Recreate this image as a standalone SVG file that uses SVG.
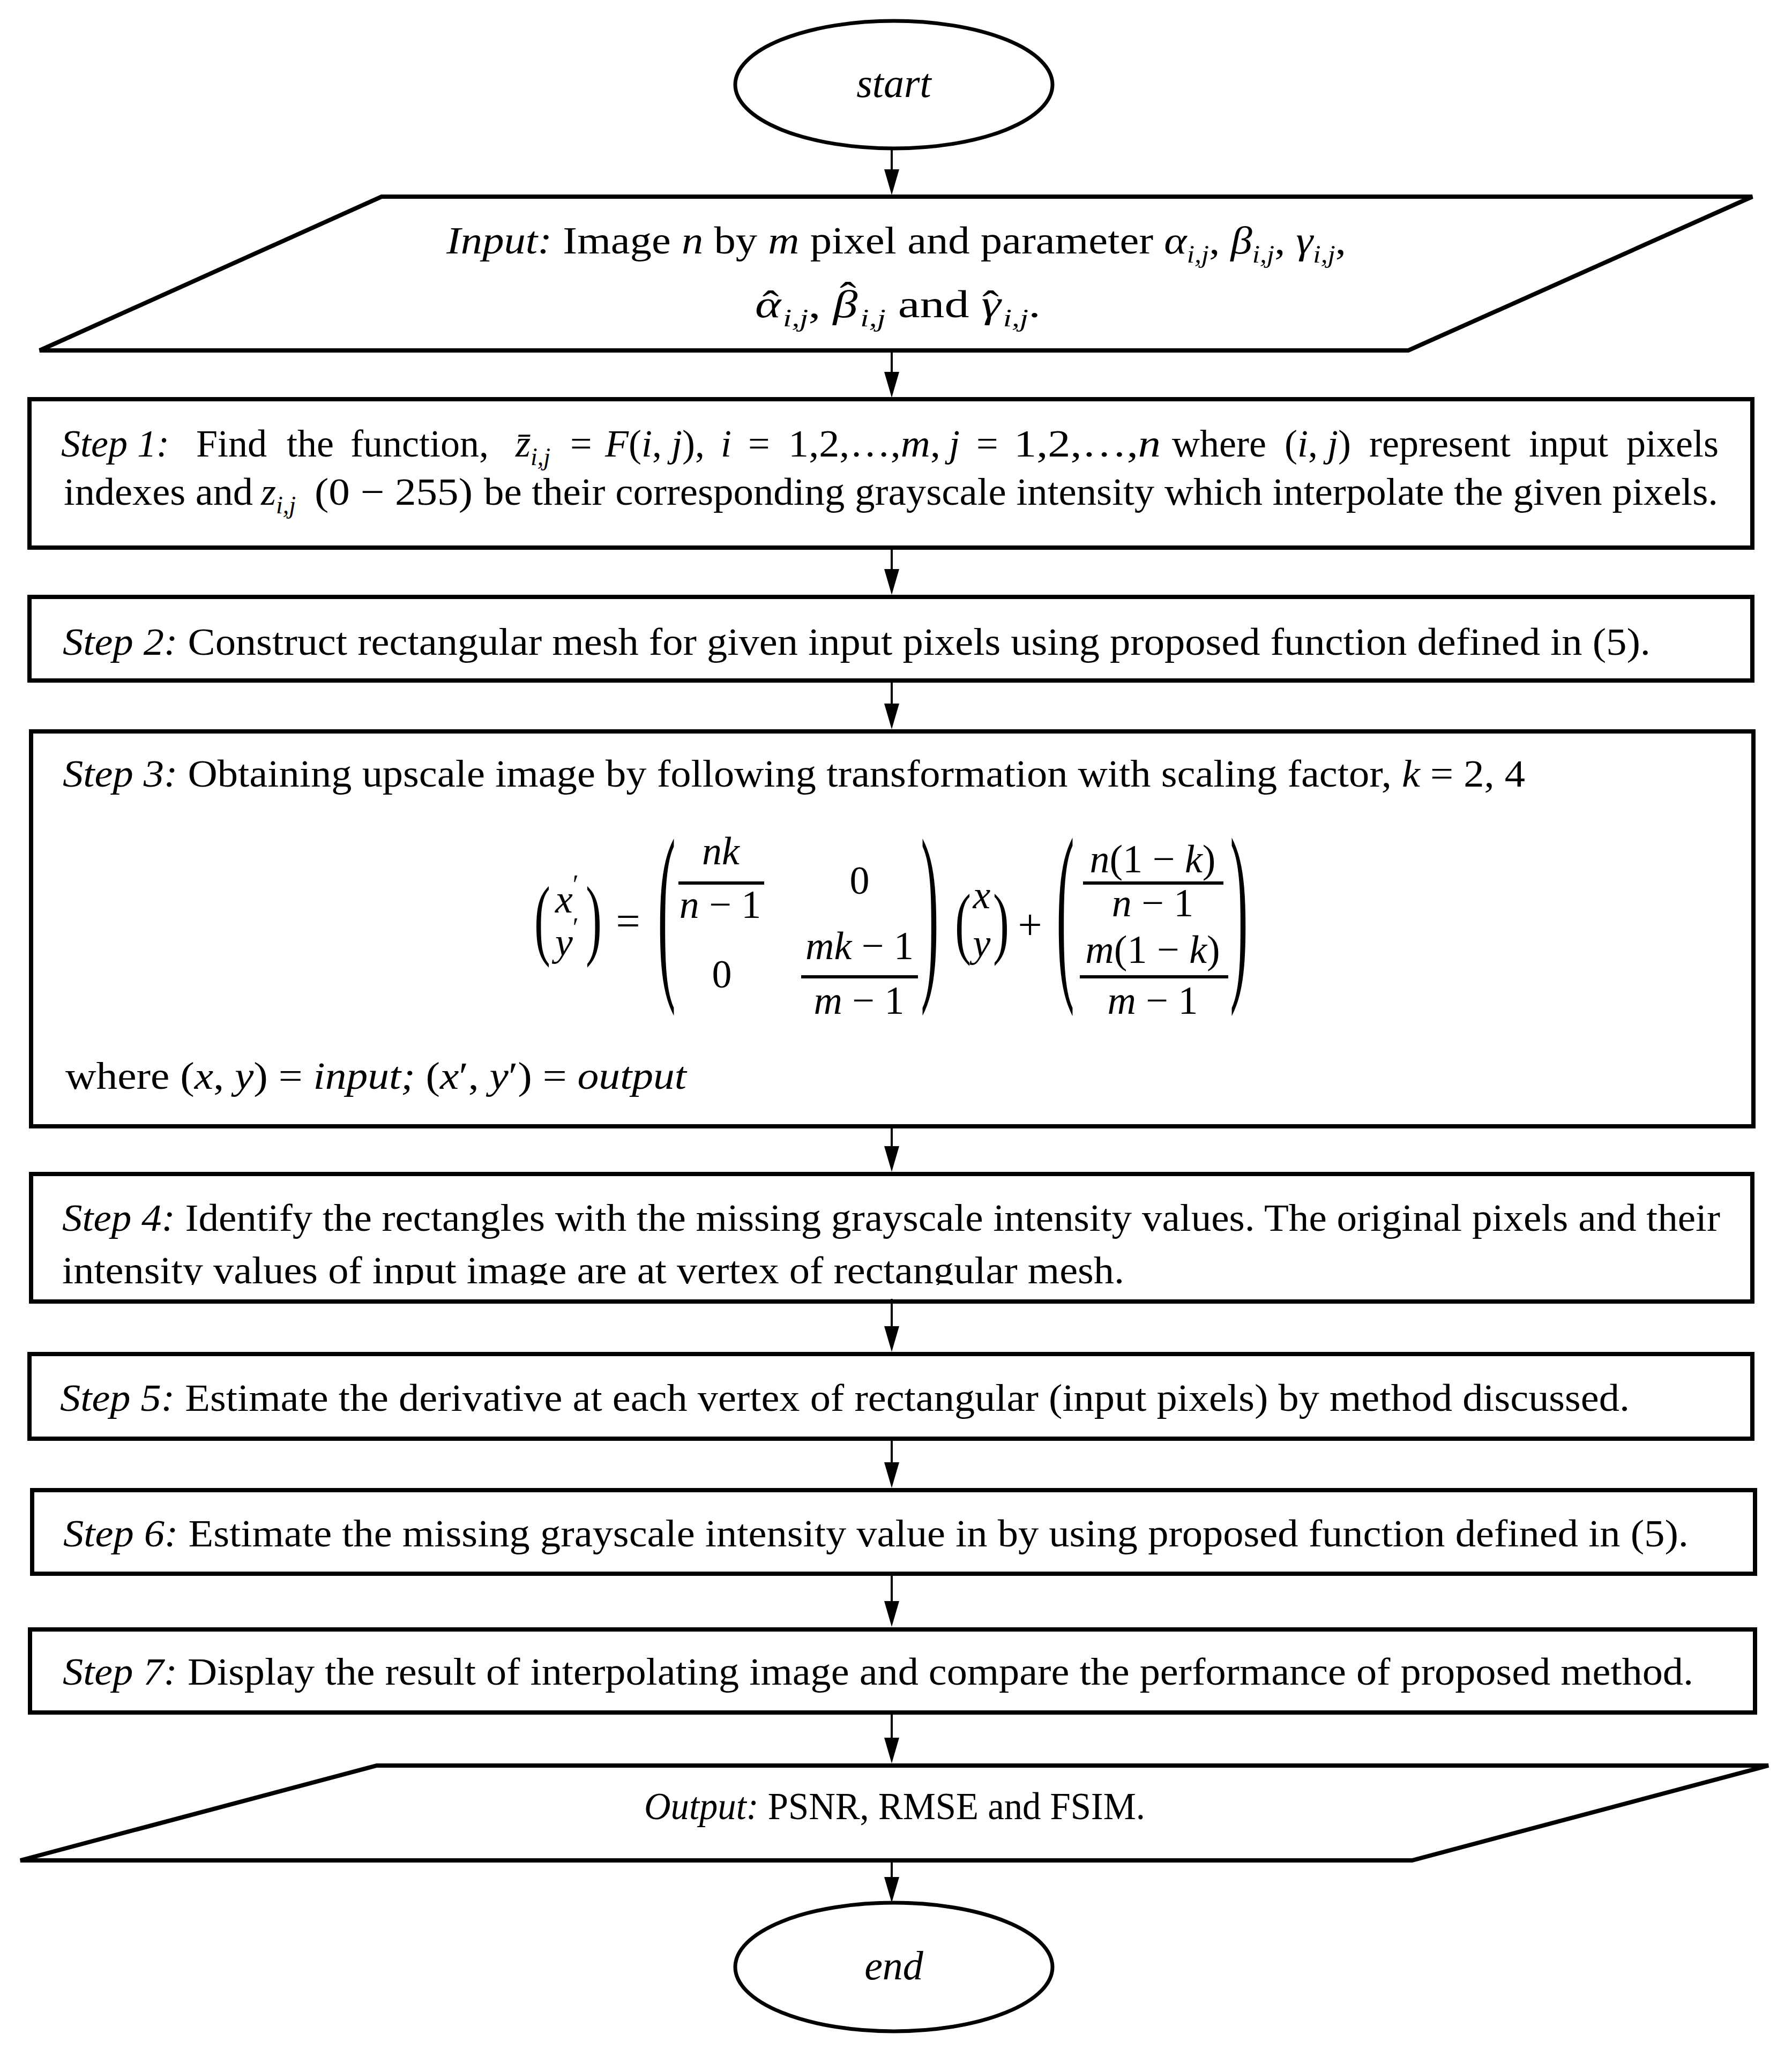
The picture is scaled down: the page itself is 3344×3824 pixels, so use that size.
<svg xmlns="http://www.w3.org/2000/svg" width="3344" height="3824" viewBox="0 0 3344 3824">
<style>
.t{font-family:"Liberation Serif","Times New Roman",serif;font-size:72px;fill:#000}
.i{font-style:italic}
.s{font-size:46px;font-style:italic}
.m{font-family:"Liberation Serif","Times New Roman",serif;font-size:74px;fill:#000}
.box{fill:#fff;stroke:#000;stroke-width:8}
.term{fill:#fff;stroke:#000;stroke-width:7}
.bar{stroke:#000;stroke-width:6}
.conn line{stroke:#000;stroke-width:4}
</style>
<defs>
<marker id="ah" markerUnits="userSpaceOnUse" viewBox="0 0 48 28" refX="38" refY="14" markerWidth="48" markerHeight="28" orient="auto">
<path d="M0,0 L48,14 L0,28 z" fill="#000"/>
</marker>
<clipPath id="clip4"><rect x="60" y="2195" width="3208" height="203"/></clipPath>
</defs>
<rect width="3344" height="3824" fill="#fff"/>

<g id="start">
<ellipse class="term" cx="1668" cy="158" rx="296" ry="119"/>
<text class="t i" x="1668" y="181" text-anchor="middle" style="font-size:76px">start</text>
</g>

<g id="input">
<polygon class="box" points="712,367 3270,367 2628,654 74,654"/>
<text class="t" x="833" y="473" textLength="1679" lengthAdjust="spacingAndGlyphs"><tspan class="i">Input:</tspan> Image <tspan class="i">n</tspan> by <tspan class="i">m</tspan> pixel and parameter <tspan class="i">α</tspan><tspan class="s" dy="17">i,j</tspan><tspan dy="-17">, </tspan><tspan class="i">β</tspan><tspan class="s" dy="17">i,j</tspan><tspan dy="-17">, </tspan><tspan class="i">γ</tspan><tspan class="s" dy="17">i,j</tspan><tspan dy="-17">,</tspan></text>
<text class="t" x="1409" y="592" textLength="533" lengthAdjust="spacingAndGlyphs"><tspan class="i">α</tspan><tspan dx="-27">ˆ</tspan><tspan class="s" dx="6" dy="17">i,j</tspan><tspan dy="-17">, </tspan><tspan class="i">β</tspan><tspan dx="-26" dy="-16">ˆ</tspan><tspan class="s" dx="6" dy="33">i,j</tspan><tspan dy="-17"> and  </tspan><tspan class="i">γ</tspan><tspan dx="-27">ˆ</tspan><tspan class="s" dx="6" dy="17">i,j</tspan><tspan dy="-17">.</tspan></text>
</g>

<g id="step1">
<rect class="box" x="55" y="745" width="3215" height="277"/>
<text class="t i" x="114" y="852">Step 1:</text>
<text class="t" x="366" y="852">Find</text>
<text class="t" x="535" y="852">the</text>
<text class="t" x="654" y="852">function,</text>
<text class="t" x="962" y="852"><tspan class="i">z&#x304;</tspan><tspan class="s" dy="16">i,j</tspan></text>
<text class="t" x="1064" y="852">=</text>
<text class="t" x="1129" y="852"><tspan class="i">F</tspan>(<tspan class="i">i</tspan>, <tspan class="i">j</tspan>),</text>
<text class="t i" x="1345" y="852">i</text>
<text class="t" x="1396" y="852">=</text>
<text class="t" x="1471" y="852" textLength="284" lengthAdjust="spacingAndGlyphs">1,2,…,<tspan class="i">m</tspan>,</text>
<text class="t i" x="1771" y="852">j</text>
<text class="t" x="1822" y="852">=</text>
<text class="t" x="1892" y="852" textLength="274" lengthAdjust="spacingAndGlyphs">1,2,…,<tspan class="i">n</tspan></text>
<text class="t" x="2187" y="852">where</text>
<text class="t" x="2397" y="852">(<tspan class="i">i</tspan>, <tspan class="i">j</tspan>)</text>
<text class="t" x="2555" y="852">represent</text>
<text class="t" x="2853" y="852">input</text>
<text class="t" x="3035" y="852">pixels</text>
<text class="t" x="119" y="942" textLength="353" lengthAdjust="spacingAndGlyphs">indexes and</text>
<text class="t" x="487" y="942"><tspan class="i">z</tspan><tspan class="s" dy="16">i,j</tspan></text>
<text class="t" x="587" y="942" textLength="295" lengthAdjust="spacingAndGlyphs">(0 − 255)</text>
<text class="t" x="903" y="942" textLength="2303" lengthAdjust="spacingAndGlyphs">be their corresponding grayscale intensity which interpolate the given pixels.</text>
</g>

<g id="step2">
<rect class="box" x="55" y="1114" width="3215" height="156"/>
<text class="t" x="117" y="1222" textLength="2963" lengthAdjust="spacingAndGlyphs"><tspan class="i">Step 2:</tspan> Construct rectangular mesh for given input pixels using proposed function defined in (5).</text>
</g>

<g id="step3">
<rect class="box" x="58" y="1365" width="3214" height="737"/>
<text class="t" x="117" y="1468" textLength="2729" lengthAdjust="spacingAndGlyphs"><tspan class="i">Step 3:</tspan> Obtaining upscale image by following transformation with scaling factor, <tspan class="i">k</tspan> = 2, 4</text>
<text class="m" x="1036" y="1703"><tspan class="i">x</tspan><tspan style="font-size:50px" dy="-36">′</tspan></text>
<text class="m" x="1036" y="1783"><tspan class="i">y</tspan><tspan style="font-size:50px" dy="-36">′</tspan></text>
<text class="m" transform="translate(1012,1770) scale(0.9,1.676)" text-anchor="middle" style="font-size:100px">(</text>
<text class="m" transform="translate(1108,1770) scale(0.9,1.676)" text-anchor="middle" style="font-size:100px">)</text>
<text class="m" x="1172" y="1746" text-anchor="middle" style="font-size:80px">=</text>
<text class="m" transform="translate(1244,1818) scale(1.0,3.646)" text-anchor="middle" style="font-size:100px">(</text>
<text class="m i" x="1345" y="1613" text-anchor="middle">nk</text>
<line class="bar" x1="1266" y1="1648" x2="1426" y2="1648"/>
<text class="m" x="1344" y="1713" text-anchor="middle"><tspan class="i">n</tspan> − 1</text>
<text class="m" x="1604" y="1668" text-anchor="middle">0</text>
<text class="m" x="1604" y="1790" text-anchor="middle"><tspan class="i">mk</tspan> − 1</text>
<line class="bar" x1="1495" y1="1823" x2="1713" y2="1823"/>
<text class="m" x="1347" y="1843" text-anchor="middle">0</text>
<text class="m" x="1603" y="1892" text-anchor="middle"><tspan class="i">m</tspan> − 1</text>
<text class="m" transform="translate(1735,1818) scale(1.0,3.646)" text-anchor="middle" style="font-size:100px">)</text>
<text class="m" transform="translate(1797,1771) scale(0.9,1.489)" text-anchor="middle" style="font-size:100px">(</text>
<text class="m i" x="1832" y="1695" text-anchor="middle">x</text>
<text class="m i" x="1832" y="1785" text-anchor="middle">y</text>
<text class="m" transform="translate(1868,1771) scale(0.9,1.489)" text-anchor="middle" style="font-size:100px">)</text>
<text class="m" x="1922" y="1753" text-anchor="middle" style="font-size:80px">+</text>
<text class="m" transform="translate(1988,1818) scale(1.0,3.67)" text-anchor="middle" style="font-size:100px">(</text>
<text class="m" x="2151" y="1628" text-anchor="middle"><tspan class="i">n</tspan>(1 − <tspan class="i">k</tspan>)</text>
<line class="bar" x1="2021" y1="1648" x2="2283" y2="1648"/>
<text class="m" x="2151" y="1710" text-anchor="middle"><tspan class="i">n</tspan> − 1</text>
<text class="m" x="2151" y="1797" text-anchor="middle"><tspan class="i">m</tspan>(1 − <tspan class="i">k</tspan>)</text>
<line class="bar" x1="2015" y1="1823" x2="2292" y2="1823"/>
<text class="m" x="2151" y="1892" text-anchor="middle"><tspan class="i">m</tspan> − 1</text>
<text class="m" transform="translate(2312,1818) scale(1.0,3.67)" text-anchor="middle" style="font-size:100px">)</text>
<text class="t" x="122" y="2032" textLength="1159" lengthAdjust="spacingAndGlyphs">where (<tspan class="i">x</tspan>, <tspan class="i">y</tspan>) = <tspan class="i">input;</tspan> (<tspan class="i">x</tspan>′, <tspan class="i">y</tspan>′) = <tspan class="i">output</tspan></text>
</g>

<g id="step4">
<rect class="box" x="58" y="2191" width="3212" height="238"/>
<g clip-path="url(#clip4)">
<text class="t" x="116" y="2297" textLength="3094" lengthAdjust="spacingAndGlyphs"><tspan class="i">Step 4:</tspan> Identify the rectangles with the missing grayscale intensity values. The original pixels and their</text>
<text class="t" x="116" y="2395" textLength="1982" lengthAdjust="spacingAndGlyphs">intensity values of input image are at vertex of rectangular mesh.</text>
</g>
</g>

<g id="step5">
<rect class="box" x="55" y="2527" width="3215" height="158"/>
<text class="t" x="112" y="2633" textLength="2929" lengthAdjust="spacingAndGlyphs"><tspan class="i">Step 5:</tspan> Estimate the derivative at each vertex of rectangular (input pixels) by method discussed.</text>
</g>

<g id="step6">
<rect class="box" x="60" y="2781" width="3215" height="156"/>
<text class="t" x="118" y="2886" textLength="3033" lengthAdjust="spacingAndGlyphs"><tspan class="i">Step 6:</tspan> Estimate the missing grayscale intensity value in by using proposed function defined in (5).</text>
</g>

<g id="step7">
<rect class="box" x="56" y="3041" width="3219" height="155"/>
<text class="t" x="117" y="3144" textLength="3043" lengthAdjust="spacingAndGlyphs"><tspan class="i">Step 7:</tspan> Display the result of interpolating image and compare the performance of proposed method.</text>
</g>

<g id="output">
<polygon class="box" points="703,3295 3300,3295 2635,3472 38,3472"/>
<text class="t" x="1202" y="3395" textLength="935" lengthAdjust="spacingAndGlyphs"><tspan class="i">Output:</tspan> PSNR, RMSE and FSIM.</text>
</g>

<g id="end">
<ellipse class="term" cx="1668" cy="3671" rx="296" ry="120"/>
<text class="t i" x="1668" y="3694" text-anchor="middle" style="font-size:76px">end</text>
</g>

<g id="connectors" class="conn">
<line x1="1664" y1="277" x2="1664" y2="354" marker-end="url(#ah)"/>
<line x1="1664" y1="657" x2="1664" y2="732" marker-end="url(#ah)"/>
<line x1="1664" y1="1026" x2="1664" y2="1100" marker-end="url(#ah)"/>
<line x1="1664" y1="1274" x2="1664" y2="1351" marker-end="url(#ah)"/>
<line x1="1664" y1="2106" x2="1664" y2="2177" marker-end="url(#ah)"/>
<line x1="1664" y1="2424" x2="1664" y2="2513" marker-end="url(#ah)"/>
<line x1="1664" y1="2689" x2="1664" y2="2767" marker-end="url(#ah)"/>
<line x1="1664" y1="2941" x2="1664" y2="3026" marker-end="url(#ah)"/>
<line x1="1664" y1="3200" x2="1664" y2="3281" marker-end="url(#ah)"/>
<line x1="1664" y1="3476" x2="1664" y2="3541" marker-end="url(#ah)"/>
</g>
</svg>
